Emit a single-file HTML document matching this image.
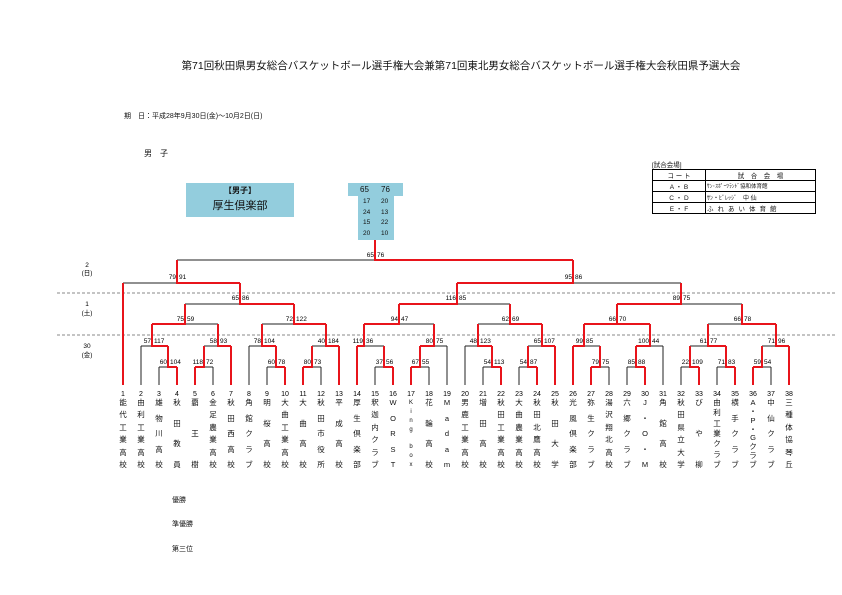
<!DOCTYPE html>
<html><head><meta charset="utf-8"><style>
html,body{margin:0;padding:0;background:#fff;}
body{width:842px;height:595px;position:relative;overflow:hidden;font-family:"Liberation Sans","Noto Sans CJK JP",sans-serif;color:#111;}
.abs{position:absolute;}
.nm{position:absolute;top:399px;height:70px;width:14px;display:flex;flex-direction:column;justify-content:space-between;align-items:center;font-size:7.5px;line-height:8px;}
svg text{font-family:"Liberation Sans","Noto Sans CJK JP",sans-serif;}
</style></head><body>
<div class="abs" style="left:0;width:842px;top:58px;text-align:center;font-size:10.5px;padding-left:80px;box-sizing:border-box;">第71回秋田県男女総合バスケットボール選手権大会兼第71回東北男女総合バスケットボール選手権大会秋田県予選大会</div>
<div class="abs" style="left:124px;top:111px;font-size:7px;">期　日：平成28年9月30日(金)～10月2日(日)</div>
<div class="abs" style="left:144px;top:148px;font-size:8px;">男　子</div>

<div class="abs" style="left:186px;top:183px;width:108px;height:34px;background:#93cddd;text-align:center;">
<div style="font-size:8px;font-weight:bold;margin-top:2px;">【男子】</div>
<div style="font-size:11px;margin-top:1px;">厚生倶楽部</div></div>
<div class="abs" style="left:348px;top:183px;width:55px;height:13px;background:#93cddd;font-size:8px;line-height:13px;"><span style="position:absolute;left:12px">65</span><span style="position:absolute;left:33px">76</span></div>
<div class="abs" style="left:358px;top:196px;width:36px;height:44px;background:#93cddd;font-size:6.5px;line-height:10.5px;padding-top:1px;box-sizing:border-box;">
<div><span style="position:absolute;left:5px">17</span><span style="position:absolute;left:23px">20</span>&nbsp;</div>
<div><span style="position:absolute;left:5px">24</span><span style="position:absolute;left:23px">13</span>&nbsp;</div>
<div><span style="position:absolute;left:5px">15</span><span style="position:absolute;left:23px">22</span>&nbsp;</div>
<div><span style="position:absolute;left:5px">20</span><span style="position:absolute;left:23px">10</span>&nbsp;</div></div>

<div class="abs" style="left:652px;top:159px;font-size:6.5px;">[試合会場]</div>
<table class="abs" style="left:652px;top:169px;width:164px;border-collapse:collapse;font-size:6.5px;border:1.5px solid #000;">
<tr style="height:11px"><td style="border:1px solid #000;width:52px;text-align:center;padding:0">コ ー ト</td><td style="border:1px solid #000;text-align:center;padding:0">試　合　会　場</td></tr>
<tr style="height:11px"><td style="border:1px solid #000;text-align:center;padding:0">A ・ B</td><td style="border:1px solid #000;padding:0 1px;font-size:5.5px">ｻﾝ･ｽﾎﾟｰﾂﾗﾝﾄﾞ協和体育館</td></tr>
<tr style="height:11px"><td style="border:1px solid #000;text-align:center;padding:0">C ・ D</td><td style="border:1px solid #000;padding:0 1px;font-size:6px">ｻﾝ・ﾋﾞﾚｯｼﾞ　中 仙</td></tr>
<tr style="height:11px"><td style="border:1px solid #000;text-align:center;padding:0">E ・ F</td><td style="border:1px solid #000;padding:0 1px;letter-spacing:4px">ふれあい体育館</td></tr>
</table>

<svg class="abs" style="left:0;top:0" width="842" height="595" viewBox="0 0 842 595">
<line x1="57" y1="293" x2="836" y2="293" stroke="#888" stroke-width="1" stroke-dasharray="3,2"/>
<line x1="57" y1="335" x2="836" y2="335" stroke="#888" stroke-width="1" stroke-dasharray="3,2"/>
<g font-size="6.5" text-anchor="middle">
<text x="87" y="267">2</text><text x="87" y="275">(日)</text>
<text x="87" y="306">1</text><text x="87" y="315">(土)</text>
<text x="87" y="348">30</text><text x="87" y="357">(金)</text>
</g>
<!-- black lines -->
<path fill="none" stroke="#222" stroke-width="1" d="
M141 385V346 M159 385V367 M213 385V367 M249 385V346 M267 385V367 M321 385V367 M375 385V367 M429 385V367 M447 385V346 M465 385V346 M483 385V367 M519 385V367 M609 385V367 M627 385V367 M663 385V346 M681 385V367 M717 385V367 M771 385V367
M159 367H168 M204 367H213 M267 367H276 M312 367H321 M375 367H384 M420 367H429 M483 367H492 M519 367H528 M600 367H609 M627 367H636 M681 367H690 M717 367H726 M762 367H771
M141 346H152 M204 346H218 M249 346H262 M312 346H326 M364 346H384 M434 346H447 M465 346H478 M528 346H542 M584 346H600 M650 346H663 M690 346H708 M762 346H776
M185 324H218 M262 324H294 M399 324H434 M478 324H510 M708 324H742
M185 304H240 M457 304H510 M681 304H742
M123 283H177 M573 283H681
M177 260H375"/>
<!-- red lines -->
<path fill="none" stroke="#e8141b" stroke-width="2" d="
M123 385V283 M177 385V367 M195 385V367 M231 385V346 M285 385V367 M303 385V367 M339 385V346 M357 385V346 M393 385V367 M411 385V367 M501 385V367 M537 385V367 M555 385V346 M573 385V346 M591 385V367 M645 385V367 M699 385V367 M735 385V367 M753 385V367 M789 385V346
M177 367H168V346 M195 367H204V346 M285 367H276V346 M303 367H312V346 M393 367H384V346 M411 367H420V346 M501 367H492V346 M537 367H528V346 M591 367H600V346 M645 367H636V346 M699 367H690V346 M735 367H726V346 M753 367H762V346
M168 346H152V324 M231 346H218V324 M276 346H262V324 M339 346H326V324 M357 346H364V324 M420 346H434V324 M492 346H478V324 M555 346H542V324 M573 346H584V324 M636 346H650V324 M726 346H708V324 M789 346H776V324
M152 324H185V304 M326 324H294V304 M364 324H399V304 M542 324H510V304 M584 324H650 M617 324V304 M776 324H742V304
M294 304H240V283 M399 304H457V283 M617 304H681V283
M240 283H177V260 M457 283H573V260
M573 260H375V240"/>
<g font-size="6.5">
<!-- small -->
<text x="167" y="364" text-anchor="end">60</text><text x="170" y="364">104</text>
<text x="203" y="364" text-anchor="end">118</text><text x="206" y="364">72</text>
<text x="275" y="364" text-anchor="end">60</text><text x="278" y="364">78</text>
<text x="311" y="364" text-anchor="end">80</text><text x="314" y="364">73</text>
<text x="383" y="364" text-anchor="end">37</text><text x="386" y="364">56</text>
<text x="419" y="364" text-anchor="end">67</text><text x="422" y="364">55</text>
<text x="491" y="364" text-anchor="end">54</text><text x="494" y="364">113</text>
<text x="527" y="364" text-anchor="end">54</text><text x="530" y="364">87</text>
<text x="599" y="364" text-anchor="end">79</text><text x="602" y="364">75</text>
<text x="635" y="364" text-anchor="end">85</text><text x="638" y="364">88</text>
<text x="689" y="364" text-anchor="end">22</text><text x="692" y="364">109</text>
<text x="725" y="364" text-anchor="end">71</text><text x="728" y="364">83</text>
<text x="761" y="364" text-anchor="end">59</text><text x="764" y="364">54</text>
<!-- big -->
<text x="151" y="343" text-anchor="end">57</text><text x="154" y="343">117</text>
<text x="217" y="343" text-anchor="end">58</text><text x="220" y="343">93</text>
<text x="261" y="343" text-anchor="end">78</text><text x="264" y="343">104</text>
<text x="325" y="343" text-anchor="end">40</text><text x="328" y="343">184</text>
<text x="363" y="343" text-anchor="end">119</text><text x="366" y="343">36</text>
<text x="433" y="343" text-anchor="end">80</text><text x="436" y="343">75</text>
<text x="477" y="343" text-anchor="end">48</text><text x="480" y="343">123</text>
<text x="541" y="343" text-anchor="end">65</text><text x="544" y="343">107</text>
<text x="583" y="343" text-anchor="end">99</text><text x="586" y="343">85</text>
<text x="649" y="343" text-anchor="end">100</text><text x="652" y="343">44</text>
<text x="707" y="343" text-anchor="end">61</text><text x="710" y="343">77</text>
<text x="775" y="343" text-anchor="end">71</text><text x="778" y="343">96</text>
<!-- R2 -->
<text x="184" y="321" text-anchor="end">75</text><text x="187" y="321">59</text>
<text x="293" y="321" text-anchor="end">72</text><text x="296" y="321">122</text>
<text x="398" y="321" text-anchor="end">94</text><text x="401" y="321">47</text>
<text x="509" y="321" text-anchor="end">62</text><text x="512" y="321">69</text>
<text x="616" y="321" text-anchor="end">66</text><text x="619" y="321">70</text>
<text x="741" y="321" text-anchor="end">66</text><text x="744" y="321">78</text>
<!-- R3 -->
<text x="239" y="300" text-anchor="end">65</text><text x="242" y="300">86</text>
<text x="456" y="300" text-anchor="end">116</text><text x="459" y="300">85</text>
<text x="680" y="300" text-anchor="end">89</text><text x="683" y="300">75</text>
<!-- R4 -->
<text x="176" y="279" text-anchor="end">79</text><text x="179" y="279">91</text>
<text x="572" y="279" text-anchor="end">95</text><text x="575" y="279">86</text>
<text x="374" y="257" text-anchor="end">65</text><text x="377" y="257">76</text>
</g>
<g font-size="7" text-anchor="middle">
<text x="123" y="396">1</text><text x="141" y="396">2</text><text x="159" y="396">3</text><text x="177" y="396">4</text><text x="195" y="396">5</text><text x="213" y="396">6</text><text x="231" y="396">7</text><text x="249" y="396">8</text><text x="267" y="396">9</text><text x="285" y="396">10</text><text x="303" y="396">11</text><text x="321" y="396">12</text><text x="339" y="396">13</text><text x="357" y="396">14</text><text x="375" y="396">15</text><text x="393" y="396">16</text><text x="411" y="396">17</text><text x="429" y="396">18</text><text x="447" y="396">19</text><text x="465" y="396">20</text><text x="483" y="396">21</text><text x="501" y="396">22</text><text x="519" y="396">23</text><text x="537" y="396">24</text><text x="555" y="396">25</text><text x="573" y="396">26</text><text x="591" y="396">27</text><text x="609" y="396">28</text><text x="627" y="396">29</text><text x="645" y="396">30</text><text x="663" y="396">31</text><text x="681" y="396">32</text><text x="699" y="396">33</text><text x="717" y="396">34</text><text x="735" y="396">35</text><text x="753" y="396">36</text><text x="771" y="396">37</text><text x="789" y="396">38</text>
</g>
</svg>

<div class="nm" style="left:116px"><span>能</span><span>代</span><span>工</span><span>業</span><span>高</span><span>校</span></div>
<div class="nm" style="left:134px"><span>由</span><span>利</span><span>工</span><span>業</span><span>高</span><span>校</span></div>
<div class="nm" style="left:152px"><span>雄</span><span>物</span><span>川</span><span>高</span><span>校</span></div>
<div class="nm" style="left:170px"><span>秋</span><span>田</span><span>教</span><span>員</span></div>
<div class="nm" style="left:188px"><span>覇</span><span>王</span><span>樹</span></div>
<div class="nm" style="left:206px"><span>金</span><span>足</span><span>農</span><span>業</span><span>高</span><span>校</span></div>
<div class="nm" style="left:224px"><span>秋</span><span>田</span><span>西</span><span>高</span><span>校</span></div>
<div class="nm" style="left:242px"><span>角</span><span>館</span><span>ク</span><span>ラ</span><span>ブ</span></div>
<div class="nm" style="left:260px"><span>明</span><span>桜</span><span>高</span><span>校</span></div>
<div class="nm" style="left:278px"><span>大</span><span>曲</span><span>工</span><span>業</span><span>高</span><span>校</span></div>
<div class="nm" style="left:296px"><span>大</span><span>曲</span><span>高</span><span>校</span></div>
<div class="nm" style="left:314px"><span>秋</span><span>田</span><span>市</span><span>役</span><span>所</span></div>
<div class="nm" style="left:332px"><span>平</span><span>成</span><span>高</span><span>校</span></div>
<div class="nm" style="left:350px"><span>厚</span><span>生</span><span>倶</span><span>楽</span><span>部</span></div>
<div class="nm" style="left:368px"><span>釈</span><span>迦</span><span>内</span><span>ク</span><span>ラ</span><span>ブ</span></div>
<div class="nm" style="left:386px"><span>W</span><span>O</span><span>R</span><span>S</span><span>T</span></div>
<div class="nm" style="left:404px;font-size:6px"><span>K</span><span>i</span><span>n</span><span>g</span><span>&nbsp;</span><span>b</span><span>o</span><span>x</span></div>
<div class="nm" style="left:422px"><span>花</span><span>輪</span><span>高</span><span>校</span></div>
<div class="nm" style="left:440px"><span>M</span><span>a</span><span>d</span><span>a</span><span>m</span></div>
<div class="nm" style="left:458px"><span>男</span><span>鹿</span><span>工</span><span>業</span><span>高</span><span>校</span></div>
<div class="nm" style="left:476px"><span>増</span><span>田</span><span>高</span><span>校</span></div>
<div class="nm" style="left:494px"><span>秋</span><span>田</span><span>工</span><span>業</span><span>高</span><span>校</span></div>
<div class="nm" style="left:512px"><span>大</span><span>曲</span><span>農</span><span>業</span><span>高</span><span>校</span></div>
<div class="nm" style="left:530px"><span>秋</span><span>田</span><span>北</span><span>鷹</span><span>高</span><span>校</span></div>
<div class="nm" style="left:548px"><span>秋</span><span>田</span><span>大</span><span>学</span></div>
<div class="nm" style="left:566px"><span>光</span><span>風</span><span>倶</span><span>楽</span><span>部</span></div>
<div class="nm" style="left:584px"><span>弥</span><span>生</span><span>ク</span><span>ラ</span><span>ブ</span></div>
<div class="nm" style="left:602px"><span>湯</span><span>沢</span><span>翔</span><span>北</span><span>高</span><span>校</span></div>
<div class="nm" style="left:620px"><span>六</span><span>郷</span><span>ク</span><span>ラ</span><span>ブ</span></div>
<div class="nm" style="left:638px"><span>J</span><span>・</span><span>O</span><span>・</span><span>M</span></div>
<div class="nm" style="left:656px"><span>角</span><span>館</span><span>高</span><span>校</span></div>
<div class="nm" style="left:674px"><span>秋</span><span>田</span><span>県</span><span>立</span><span>大</span><span>学</span></div>
<div class="nm" style="left:692px"><span>び</span><span>や</span><span>柳</span></div>
<div class="nm" style="left:710px"><span>由</span><span>利</span><span>工</span><span>業</span><span>ク</span><span>ラ</span><span>ブ</span></div>
<div class="nm" style="left:728px"><span>横</span><span>手</span><span>ク</span><span>ラ</span><span>ブ</span></div>
<div class="nm" style="left:746px"><span>A</span><span>・</span><span>P</span><span>・</span><span>G</span><span>ク</span><span>ラ</span><span>ブ</span></div>
<div class="nm" style="left:764px"><span>中</span><span>仙</span><span>ク</span><span>ラ</span><span>ブ</span></div>
<div class="nm" style="left:782px"><span>三</span><span>種</span><span>体</span><span>協</span><span>琴</span><span>丘</span></div>

<div class="abs" style="left:172px;top:495px;font-size:7px;">優勝</div>
<div class="abs" style="left:172px;top:519px;font-size:7px;">準優勝</div>
<div class="abs" style="left:172px;top:544px;font-size:7px;">第三位</div>
</body></html>
